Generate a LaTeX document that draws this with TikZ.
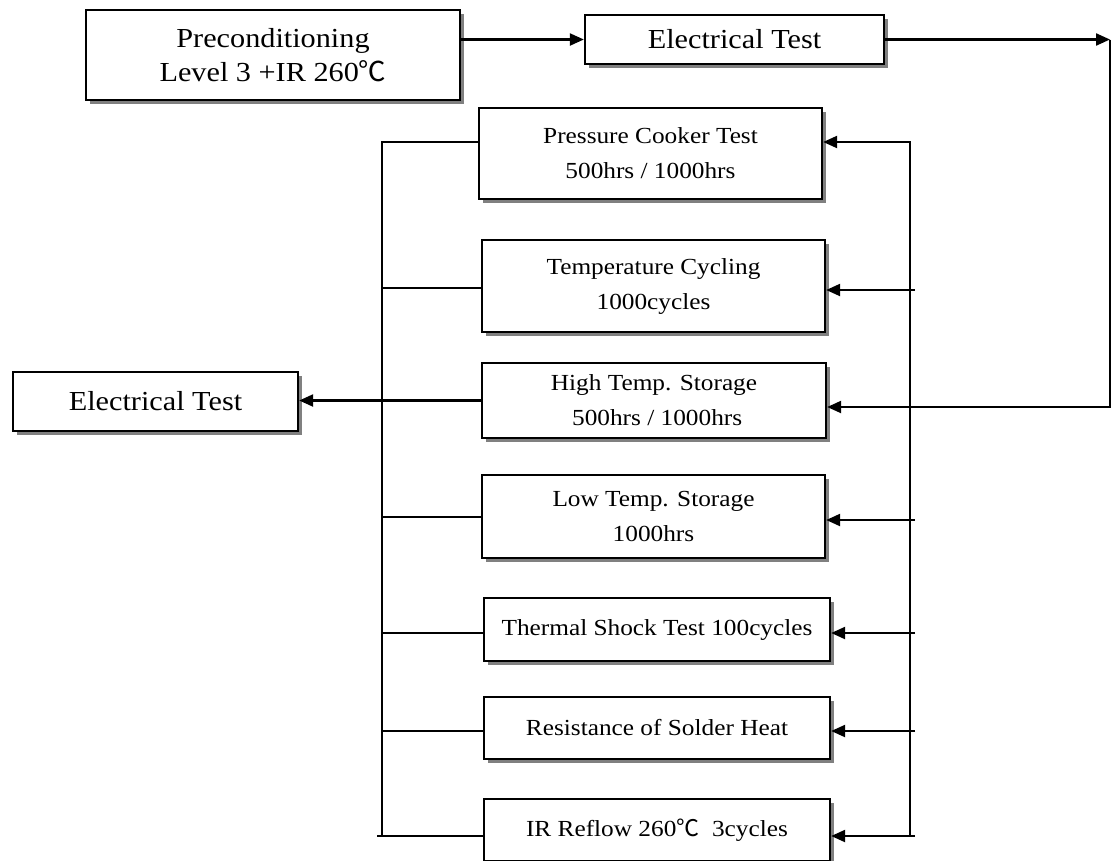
\documentclass[tikz,border=0pt]{standalone}
\usepackage{fontspec}
\setmainfont{Liberation Serif}[FakeStretch=1.1]
\newfontfamily\cjk{Noto Sans CJK SC}
\usetikzlibrary{arrows.meta,shadows}
\newcommand{\degc}{{\cjk ℃}}
\begin{document}
\begin{tikzpicture}[x=1pt,y=-1pt,
  box/.style={draw, line width=2.3pt, fill=white, align=center, inner sep=0pt,
    font=\fontsize{23}{35}\selectfont,
    drop shadow={shadow xshift=4pt, shadow yshift=-4pt, fill=black!50, opacity=1}},
  etfont/.style={font=\fontsize{27.5}{34}\selectfont},
  conn/.style={line width=2.2pt},
  arr/.style={conn, -{Triangle[length=14pt,width=12pt]}}]
\useasboundingbox (0,0) rectangle (1113,860);

% nodes
\node[box, etfont, minimum width=374pt, minimum height=90pt] (pre) at (273,55) {Preconditioning\\Level 3 +IR 260\degc};
\node[box, etfont, minimum width=299pt, minimum height=49pt] (et1) at (734.5,39.5) {Electrical Test};
\node[box, minimum width=343pt, minimum height=91pt] (pct) at (650.5,153.5) {Pressure Cooker Test\\500hrs / 1000hrs};
\node[box, minimum width=343pt, minimum height=92pt] (tc) at (653.5,286) {Temperature Cycling\\1000cycles};
\node[box, minimum width=344pt, minimum height=75pt] (hts) at (654,400.5) {High Temp. Storage\\\ 500hrs / 1000hrs};
\node[box, minimum width=343pt, minimum height=83pt] (lts) at (653.5,516.5) {Low Temp. Storage\\1000hrs};
\node[box, minimum width=346pt, minimum height=63pt] (tst) at (657,629.5) {Thermal Shock Test 100cycles};
\node[box, minimum width=346pt, minimum height=62pt] (rsh) at (657,728) {Resistance of Solder Heat};
\node[box, minimum width=346pt, minimum height=62pt] (irr) at (657,830) {IR Reflow 260\degc\ \ 3cycles};
\node[box, etfont, minimum width=285pt, minimum height=59pt] (et2) at (155.5,401.5) {Electrical Test};

% top flow
\draw[arr] (pre.east |- et1.west) -- (et1.west);
\coordinate (tr) at (1110,39.5);
\coordinate (hr) at (1110,407);
\draw[arr] (et1.east) -- (tr);
\draw[arr] (tr) -- (hr) -- (hr -| hts.east);

% right bus
\coordinate (rt) at (910,142);
\coordinate (rb) at (910,836);
\draw[arr] (rb) -- (rt) -- (rt -| pct.east);
\foreach \n/\y in {tc/290, lts/520, tst/633, rsh/731, irr/836}{
  \coordinate (r\n) at (915,\y);
  \draw[arr] (r\n) -- (r\n -| \n.east);
}

% left bus
\coordinate (lt) at (382,142);
\coordinate (lb) at (382,836);
\coordinate (lbx) at (377,836);
\draw[conn] (pct.west |- lt) -- (lt) -- (lb);
\draw[conn] (lbx) -- (lbx -| irr.west);
\foreach \n/\y in {tc/288, lts/517, tst/633, rsh/731}{
  \coordinate (l\n) at (382,\y);
  \draw[conn] (l\n) -- (l\n -| \n.west);
}
\draw[arr] (hts.west) -- (hts.west -| et2.east);
\end{tikzpicture}
\end{document}
